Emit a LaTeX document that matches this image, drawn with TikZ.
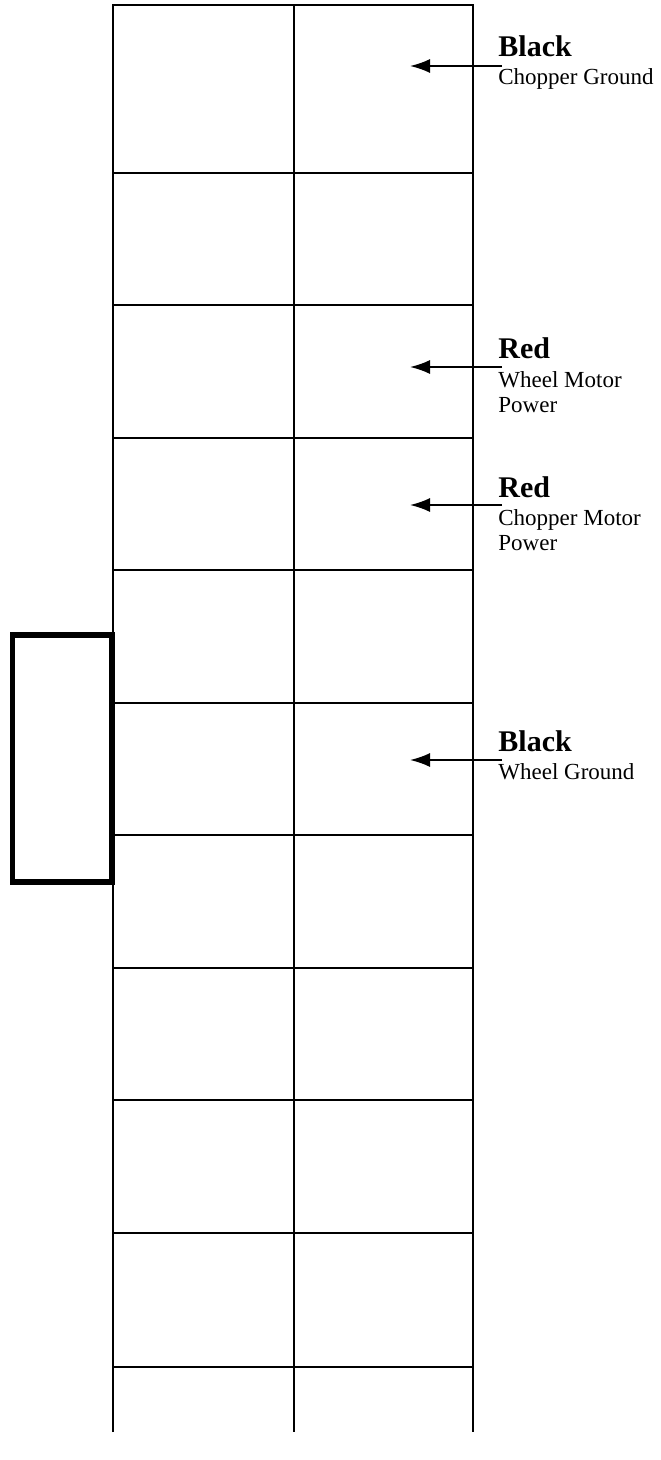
\documentclass[tikz,border=0pt]{standalone}
\usepackage{fontspec}
\setmainfont{Liberation Serif}
\usetikzlibrary{arrows.meta}
\tikzset{
  gridline/.style={line width=1pt, black},
  plate/.style={line width=2.6pt, black},
  lead/.style={line width=0.9pt, -{Latex[length=10pt,width=7pt]}},
  colourlabel/.style={anchor=base west, inner sep=0pt, font=\fontsize{15}{18}\selectfont\bfseries},
  % base anchor of a multi-line node sits on its last line
  purpose/.style={anchor=base west, inner sep=0pt, align=left, font=\fontsize{11.5}{12.5}\selectfont},
}
\begin{document}
\begin{tikzpicture}[x=0.5pt,y=-0.5pt]
\useasboundingbox (0,0) rectangle (660,1460);
% two-column grid
\draw[gridline] (113,1432) -- (113,5) -- (473,5) -- (473,1432);
\draw[gridline] (294,5) -- (294,1432);
\foreach \yy in {173,305.5,437.8,570.1,702.6,835,967.5,1100,1232.5,1367}
  \draw[gridline] (113,\yy) -- (474,\yy);
% side plate
\draw[plate] (12.5,635) rectangle (112,882);
% wire labels
\node[colourlabel] (c1) at (498,57) {Black};
\node[purpose] (p1) at (498,85) {Chopper Ground};
\node[colourlabel] (c2) at (498,358) {Red};
\node[purpose] (p2) at (498,412) {Wheel Motor\\Power};
\node[colourlabel] (c3) at (498,497) {Red};
\node[purpose] (p3) at (498,550) {Chopper Motor\\Power};
\node[colourlabel] (c4) at (498,751) {Black};
\node[purpose] (p4) at (498,779) {Wheel Ground};
% arrows
\coordinate (s1) at (502,66);   \coordinate (t1) at (410,66);
\coordinate (s2) at (502,367);  \coordinate (t2) at (410,367);
\coordinate (s3) at (502,505);  \coordinate (t3) at (410,505);
\coordinate (s4) at (502,760);  \coordinate (t4) at (410,760);
\draw[lead] (s1) -- (t1);
\draw[lead] (s2) -- (t2);
\draw[lead] (s3) -- (t3);
\draw[lead] (s4) -- (t4);
\end{tikzpicture}
\end{document}
